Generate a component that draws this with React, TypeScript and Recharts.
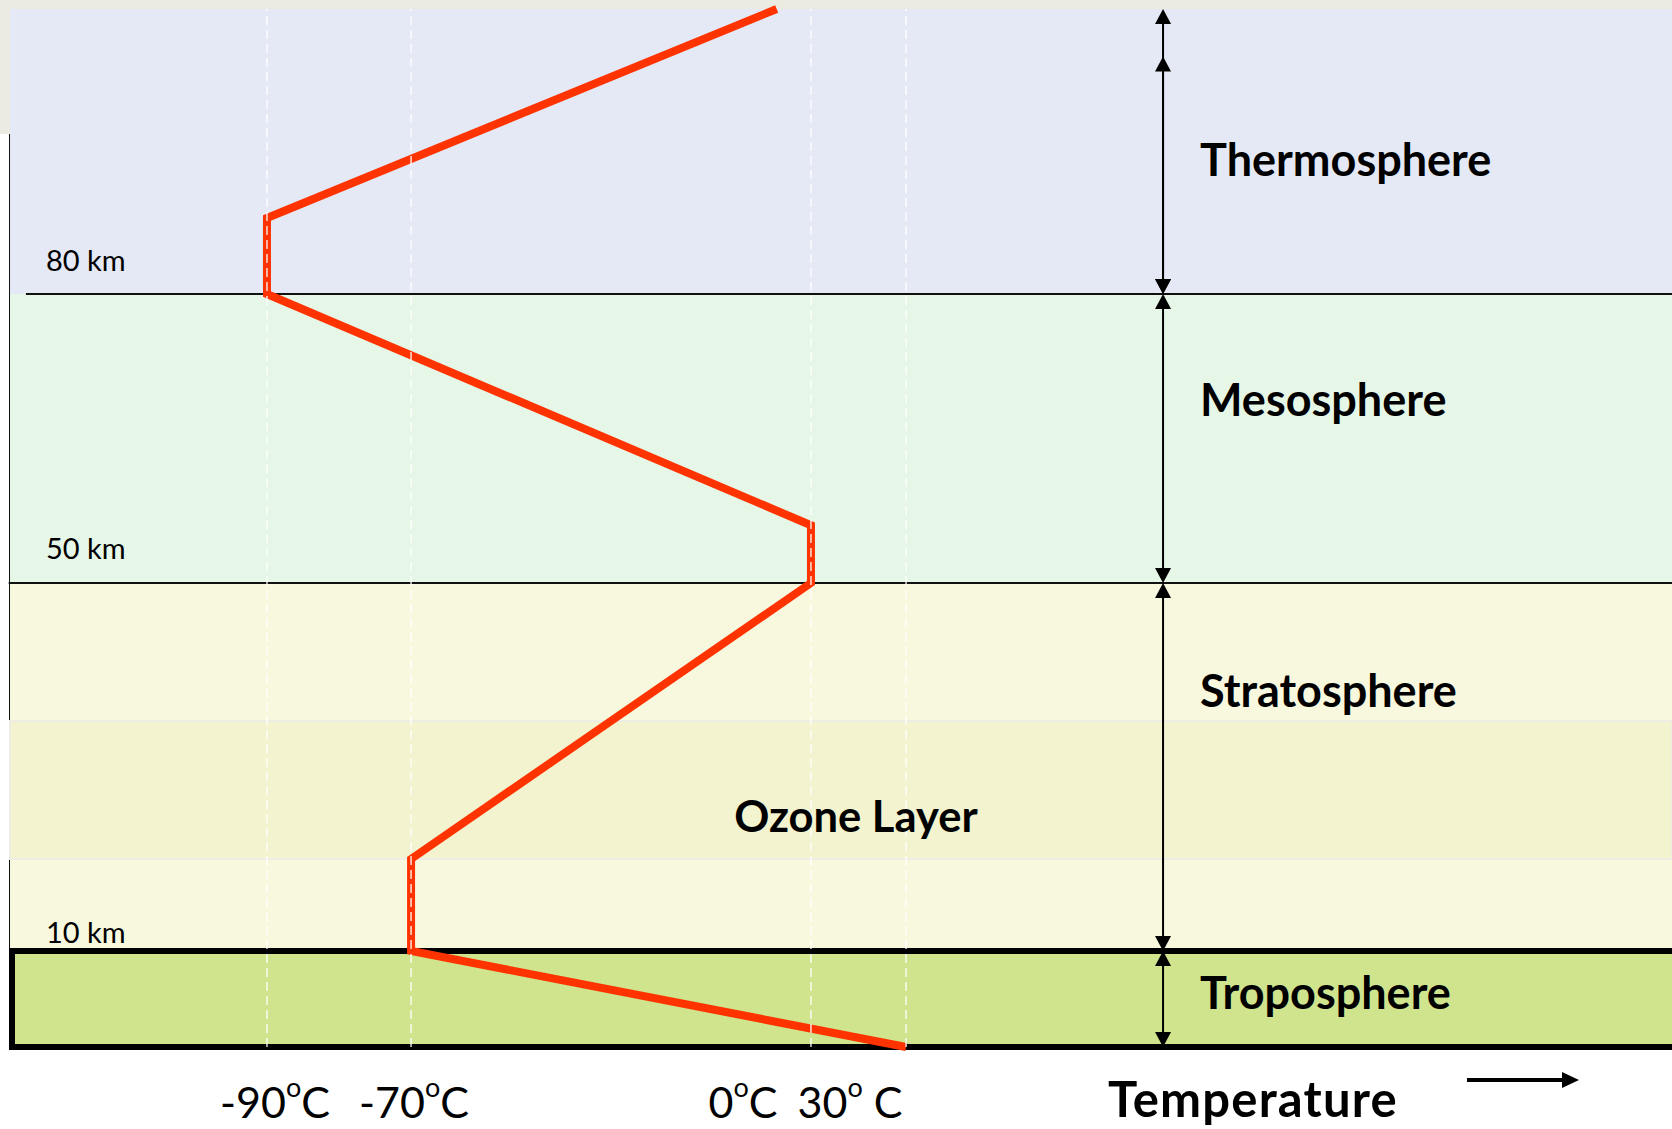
import { LineChart, Line, XAxis, YAxis, ReferenceArea, ReferenceLine, ReferenceDot } from 'recharts'

// temperature profile, read top-down (km, °C)
const profileAltitudes = [110, 88, 80, 56, 50, 20, 10, 0]
const profileTemps = [-6, -90, -90, 0, 0, -70, -70, 30]

const tempTicks = [-90, -70, 0, 30]
const tempTickLabels = ['-90°C', '-70°C', '0°C', '30° C']

// layers, bottom to top
const layerNames = ['Troposphere', 'Stratosphere', 'Mesosphere', 'Thermosphere']
const layerBottoms = [0, 10, 50, 80]
const layerTops = [10, 50, 80, 110]
const ozoneBottom = 20
const ozoneTop = 35
const ozoneName = 'Ozone Layer'

const kmMarks = [80, 50, 10]
const kmLabels = ['80 km', '50 km', '10 km']

// double arrows on the right (km)
const arrowFrom = [0, 10, 50, 80, 80]
const arrowTo = [10, 50, 80, 105, 110]

const axisTitle = 'Temperature'

// ---- layout / styling ----
const W = 1672
const H = 1129
const FONT = 'Lato, "Noto Sans", sans-serif'
const BEIGE = '#ECEBE1'
const LAYER_FILLS = ['#CFE48D', '#F8F8DF', '#E6F7E8', '#E4E9F5']
const OZONE_FILL = '#F3F3CF'
const RED = '#FF3300'
// the axes are schematic: where each tick value sits, as a fraction of the plot
const TEMP_STOPS = [0.1536, 0.2404, 0.4813, 0.5386]
const ALT_VALUES = [0, 10, 50, 80, 110]
const ALT_STOPS = [0, 0.0925, 0.447, 0.7254, 1]
const TICK_DX = [8, 3, -68, -56]
const ARROW_X = 0.6934
const LABEL_X = 0.7157
const LABEL_ALT = [4.0, 36.5, 67.3, 92.4]
const OZONE_LABEL = { x: 0.5084, alt: 22.9 }
const KM_X = 0.0205
const KM_DY = [-23, -24, -8]

const profile = profileAltitudes.map((alt, i) => ({ alt, temp: profileTemps[i] }))

// piecewise linear scale with the d3 interface recharts expects
function schematicScale(values: number[], stops: number[], dom?: number[], rng?: number[]): any {
  let d = dom ? dom.slice() : [values[0], values[values.length - 1]]
  let r = rng ? rng.slice() : [0, 1]
  const unit = (v: number) => {
    let i = 0
    while (i < values.length - 2 && v > values[i + 1]) i++
    const t = (v - values[i]) / (values[i + 1] - values[i])
    return stops[i] + t * (stops[i + 1] - stops[i])
  }
  const fromUnit = (u: number) => {
    let i = 0
    while (i < stops.length - 2 && u > stops[i + 1]) i++
    const t = (u - stops[i]) / (stops[i + 1] - stops[i])
    return values[i] + t * (values[i + 1] - values[i])
  }
  const scale: any = (v: number) => r[0] + unit(Number(v)) * (r[1] - r[0])
  scale.domain = (x?: number[]) => {
    if (x === undefined) return d.slice()
    d = x.slice()
    return scale
  }
  scale.range = (x?: number[]) => {
    if (x === undefined) return r.slice()
    r = x.slice()
    return scale
  }
  scale.copy = () => schematicScale(values, stops, d, r)
  scale.invert = (px: number) => fromUnit((px - r[0]) / (r[1] - r[0]))
  scale.ticks = () => values.slice()
  scale.tickFormat = () => (v: number) => String(v)
  scale.nice = () => scale
  scale.clamp = () => scale
  return scale
}

const tempScale = schematicScale(tempTicks, TEMP_STOPS)
const altScale = schematicScale(ALT_VALUES, ALT_STOPS)
// annotations: 0..1 across the plot width
const posScale = schematicScale([0, 1], [0, 1])

function TempTick({ x, y, payload }: any) {
  const i = tempTicks.indexOf(payload.value)
  const [num, unit] = tempTickLabels[i].split('°')
  return (
    <text x={x + TICK_DX[i]} y={y + 63} textAnchor="middle" fontFamily={FONT} fontSize={43} fill="#000" style={{ whiteSpace: 'pre' }}>
      {num}
      <tspan fontSize={27} dy={-21}>o</tspan>
      <tspan dy={21}>{unit}</tspan>
    </text>
  )
}

function TemperatureLabel({ viewBox }: any) {
  const { x, y } = viewBox
  const ay = y + 33
  return (
    <g>
      <text x={x + 1096} y={y + 70} fontFamily={FONT} fontWeight={700} fontSize={49} letterSpacing={1.2} fill="#000">
        {axisTitle}
      </text>
      <line x1={x + 1455} y1={ay} x2={x + 1553} y2={ay} stroke="#000" strokeWidth={4} />
      <polygon points={`${x + 1567},${ay} ${x + 1550},${ay - 8} ${x + 1550},${ay + 8}`} fill="#000" />
    </g>
  )
}

function DoubleArrow({ x1, y1, x2, y2 }: any) {
  const bottom = Math.max(y1, y2)
  const top = Math.min(y1, y2)
  const x = x1
  return (
    <g>
      <line x1={x} y1={top + 4} x2={x2} y2={bottom - 4} stroke="#000" strokeWidth={2} />
      <polygon points={`${x},${top} ${x - 8},${top + 15} ${x + 8},${top + 15}`} fill="#000" />
      <polygon points={`${x},${bottom} ${x - 8},${bottom - 15} ${x + 8},${bottom - 15}`} fill="#000" />
    </g>
  )
}

export default function App() {
  return (
    <div style={{ position: 'absolute', left: 0, top: 0, width: W, height: H, background: '#fff', overflow: 'hidden' }}>
      <div style={{ position: 'absolute', left: 0, top: 0, width: W, height: 10, background: BEIGE }} />
      <div style={{ position: 'absolute', left: 0, top: 0, width: 10, height: 134, background: BEIGE }} />
      <div style={{ position: 'absolute', left: 9, top: 134, width: 2, height: 913, background: '#111' }} />
      <div style={{ position: 'absolute', left: 0, top: 0 }}>
        <LineChart width={W} height={H} data={profile} margin={{ top: 9, right: 0, bottom: 0, left: 12 }}>
          <XAxis
            type="number"
            dataKey="temp"
            scale={tempScale}
            domain={[-130, 280]}
            ticks={tempTicks}
            interval={0}
            tick={(p: any) => <TempTick {...p} />}
            axisLine={false}
            tickLine={false}
            height={82}
            label={(p: any) => <TemperatureLabel viewBox={p.viewBox} />}
          />
          <XAxis xAxisId="pos" type="number" domain={[0, 1]} scale={posScale} allowDataOverflow hide />
          <YAxis type="number" domain={[0, 110]} scale={altScale} hide />

          {layerNames.map((name, i) =>
            i === 0 ? null : (
              <ReferenceArea
                key={name}
                xAxisId="pos"
                x1={-0.0012}
                x2={1}
                y1={layerBottoms[i]}
                y2={layerTops[i]}
                fill={LAYER_FILLS[i]}
                fillOpacity={1}
                stroke="none"
                ifOverflow="visible"
                zIndex={100}
              />
            )
          )}
          <ReferenceArea
            xAxisId="pos"
            x1={-0.0012}
            x2={1}
            y1={ozoneBottom}
            y2={ozoneTop}
            fill={OZONE_FILL}
            fillOpacity={1}
            stroke="#EDEDE4"
            strokeWidth={2}
            ifOverflow="visible"
            zIndex={100}
          />
          <ReferenceArea
            xAxisId="pos"
            x1={0}
            x2={1.01}
            y1={layerBottoms[0]}
            y2={layerTops[0]}
            fill={LAYER_FILLS[0]}
            fillOpacity={1}
            stroke="#000"
            strokeWidth={6}
            ifOverflow="visible"
            zIndex={110}
          />

          <ReferenceLine
            xAxisId="pos"
            segment={[{ x: 0.0084, y: kmMarks[0] }, { x: 1, y: kmMarks[0] }]}
            stroke="#111"
            strokeWidth={2}
            ifOverflow="visible"
            zIndex={150}
          />
          <ReferenceLine
            xAxisId="pos"
            segment={[{ x: -0.002, y: kmMarks[1] }, { x: 1, y: kmMarks[1] }]}
            stroke="#111"
            strokeWidth={2}
            ifOverflow="visible"
            zIndex={150}
          />

          <Line
            type="linear"
            dataKey="alt"
            stroke={RED}
            strokeWidth={8}
            dot={false}
            activeDot={false}
            isAnimationActive={false}
          />

          {tempTicks.map((t) => (
            <ReferenceLine
              key={t}
              x={t}
              stroke="#FFFFFF"
              strokeOpacity={0.85}
              strokeWidth={1.5}
              strokeDasharray="9 5"
              ifOverflow="visible"
              zIndex={450}
            />
          ))}

          {arrowFrom.map((lo, i) => (
            <ReferenceLine
              key={'arrow' + i}
              xAxisId="pos"
              segment={[{ x: ARROW_X, y: lo }, { x: ARROW_X, y: arrowTo[i] }]}
              shape={(p: any) => <DoubleArrow {...p} />}
              ifOverflow="visible"
              zIndex={470}
            />
          ))}

          {layerNames.map((name, i) => (
            <ReferenceDot
              key={'lbl' + name}
              xAxisId="pos"
              x={LABEL_X}
              y={LABEL_ALT[i]}
              r={0}
              ifOverflow="visible"
              zIndex={480}
              shape={(p: any) => (
                <text x={p.cx} y={p.cy} fontFamily={FONT} fontWeight={700} fontSize={45} fill="#000">
                  {name}
                </text>
              )}
            />
          ))}
          <ReferenceDot
            xAxisId="pos"
            x={OZONE_LABEL.x}
            y={OZONE_LABEL.alt}
            r={0}
            ifOverflow="visible"
            zIndex={480}
            shape={(p: any) => (
              <text x={p.cx} y={p.cy} textAnchor="middle" fontFamily={FONT} fontWeight={700} fontSize={43.5} fill="#000">
                {ozoneName}
              </text>
            )}
          />
          {kmMarks.map((km, i) => (
            <ReferenceDot
              key={'km' + km}
              xAxisId="pos"
              x={KM_X}
              y={km}
              r={0}
              ifOverflow="visible"
              zIndex={480}
              shape={(p: any) => (
                <text x={p.cx} y={p.cy + KM_DY[i]} fontFamily={FONT} fontSize={29} fill="#000">
                  {kmLabels[i]}
                </text>
              )}
            />
          ))}
        </LineChart>
      </div>
    </div>
  )
}
